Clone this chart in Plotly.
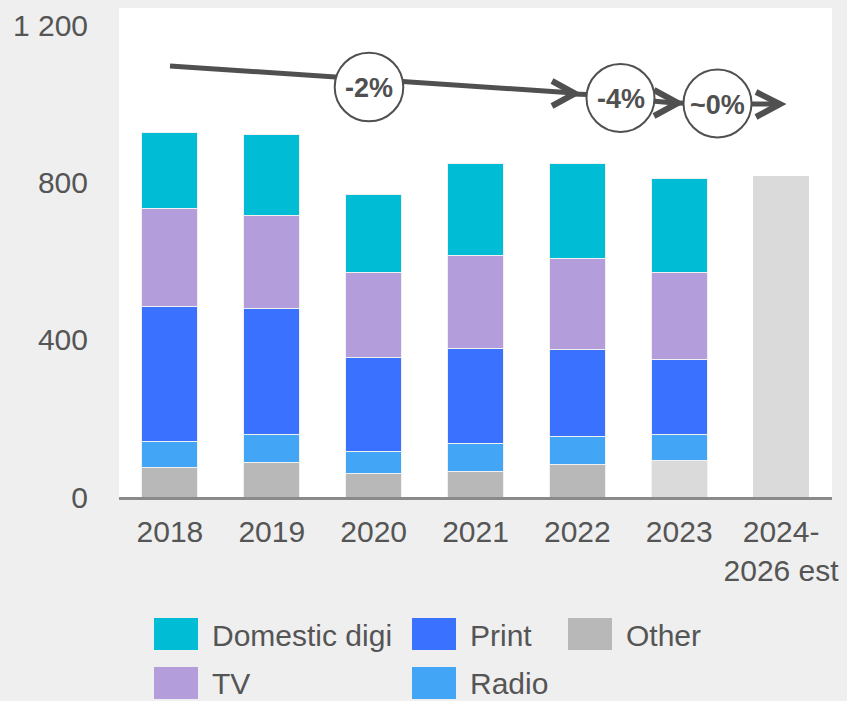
import plotly.graph_objects as go

# ---------------- data ----------------
years = ["2018", "2019", "2020", "2021", "2022", "2023"]
est_category = "2024-2026 est"
other = [74, 87, 59, 66, 83, 92]
radio = [68, 73, 58, 69, 70, 68]
print_media = [342, 319, 239, 244, 222, 190]
tv = [251, 238, 216, 236, 231, 221]
domestic_digi = [194, 206, 198, 233, 243, 239]
estimate = [818]
x_tick_labels = ["2018", "2019", "2020", "2021", "2022", "2023", "2024-<br>2026 est"]
y_tick_values = [0, 400, 800, 1200]
y_tick_labels = ["0", "400", "800", "1 200"]
growth_labels = ["-2%", "-4%", "~0%"]

# ---------------- style ----------------
FONT = "Liberation Sans, Arial, sans-serif"
TXT = "#555555"
DARK = "#505050"
C_DIGI = "#00BCD4"
C_TV = "#B39DDB"
C_PRINT = "#3A72FF"
C_RADIO = "#42A5F5"
C_OTHER = "#B8B8B8"
C_LIGHT = "#DADADA"
EDGE = dict(color="#F0F0F0", width=1)

W, H = 847, 701
L, R, T, B = 119, 832, 8, 497


def px(x):
    return (x - L) / (R - L)


def py(y):
    return (B - y) / (B - T)


fig = go.Figure()
categories = years
fig.add_bar(x=categories, y=other, name="Other",
            marker=dict(color=[C_OTHER] * 5 + [C_LIGHT], line=EDGE))
fig.add_bar(x=categories, y=radio, name="Radio", marker=dict(color=C_RADIO, line=EDGE))
fig.add_bar(x=categories, y=print_media, name="Print", marker=dict(color=C_PRINT, line=EDGE))
fig.add_bar(x=categories, y=tv, name="TV", marker=dict(color=C_TV, line=EDGE))
fig.add_bar(x=categories, y=domestic_digi, name="Domestic digi",
            marker=dict(color=C_DIGI, line=EDGE))
fig.add_bar(x=[est_category], y=estimate, name="Estimate",
            marker=dict(color=C_LIGHT, line=dict(width=0)))

# ---------------- growth arrows ----------------
shapes = []


def seg(x0, y0, x1, y1, w=5):
    shapes.append(dict(type="line", xref="paper", yref="paper",
                       x0=px(x0), y0=py(y0), x1=px(x1), y1=py(y1),
                       line=dict(color=DARK, width=w)))


def chevron(pts, w=6):
    d = "M " + " L ".join(f"{px(a):.5f},{py(b):.5f}" for a, b in pts)
    shapes.append(dict(type="path", xref="paper", yref="paper", path=d,
                       line=dict(color=DARK, width=w)))


seg(170, 66, 574, 93)
chevron([(552, 81), (575, 93.5), (552, 106)])
seg(572, 94, 605, 95)
seg(640, 100, 675, 103)
chevron([(654, 90), (678, 103), (654, 116)])
seg(676, 103, 700, 103.5)
seg(740, 104, 776, 104)
chevron([(756, 92), (780, 104), (756, 117)])

circles = [(369, 87, 34.3), (620.5, 98, 34), (717.5, 103.5, 34)]
for (cx, cy, r) in circles:
    shapes.append(dict(type="circle", xref="paper", yref="paper",
                       x0=px(cx - r), x1=px(cx + r), y0=py(cy + r), y1=py(cy - r),
                       fillcolor="white", line=dict(color=DARK, width=2)))

annotations = []
for (cx, cy, r), txt in zip(circles, growth_labels):
    annotations.append(dict(x=px(cx), y=py(cy + 1), xref="paper", yref="paper",
                            text=f"<b>{txt}</b>", showarrow=False,
                            xanchor="center", yanchor="middle",
                            font=dict(family=FONT, size=27, color=DARK)))

# ---------------- legend (drawn) ----------------
legend_items = [
    ("Domestic digi", C_DIGI, 154, 0),
    ("Print", C_PRINT, 412, 0),
    ("Other", C_OTHER, 568, 0),
    ("TV", C_TV, 154, 1),
    ("Radio", C_RADIO, 412, 1),
]
for name, col, x0, row in legend_items:
    y0 = 618 + row * 49
    shapes.append(dict(type="rect", xref="paper", yref="paper",
                       x0=px(x0), x1=px(x0 + 44), y0=py(y0 + 32), y1=py(y0),
                       fillcolor=col, line=dict(width=0)))
    annotations.append(dict(x=px(x0 + 56), y=py(y0 + 17), xref="paper", yref="paper",
                            text=name, showarrow=False, xanchor="left", yanchor="middle",
                            font=dict(family=FONT, size=30, color=TXT)))

fig.update_layout(
    width=W, height=H,
    margin=dict(l=L, r=W - R, t=T, b=H - B, pad=0),
    paper_bgcolor="#EFEFEF",
    plot_bgcolor="white",
    barmode="stack",
    bargap=0.45,
    showlegend=False,
    font=dict(family=FONT, size=30, color=TXT),
    shapes=shapes,
    annotations=annotations,
)
fig.update_xaxes(
    categoryorder="array", categoryarray=years + [est_category],
    tickvals=years + [est_category], ticktext=x_tick_labels,
    showline=True, linecolor="#8A8A8A", linewidth=3,
    showgrid=False, ticks="", ticklabelstandoff=6,
    tickfont=dict(family=FONT, size=30, color=TXT),
)
fig.update_yaxes(
    range=[0, 1245], tickvals=y_tick_values, ticktext=y_tick_labels,
    showgrid=False, zeroline=False, showline=False, ticks="",
    ticklabelstandoff=30,
    tickfont=dict(family=FONT, size=30, color=TXT),
)

fig.write_html(
    "out.html",
    config={"displayModeBar": False},
    post_script="document.body.style.margin='0px';document.body.style.overflow='hidden';",
)
